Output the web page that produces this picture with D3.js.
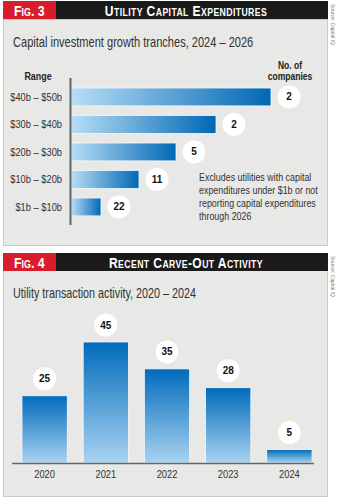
<!DOCTYPE html>
<html>
<head>
<meta charset="utf-8">
<script src="https://cdn.jsdelivr.net/npm/d3@7"></script>
<style>
    body { margin: 0; background: #fff; }
    svg { display: block; }
    text { font-family: "Liberation Sans", Arial, sans-serif; }
</style>
</head>
<body>
<svg id="chart" width="339" height="500"></svg>
<script>
// Fig. 3 data
const ranges = ["$40b – $50b", "$30b – $40b", "$20b – $30b", "$10b – $20b", "$1b – $10b"];
const companies = [2, 2, 5, 11, 22];
const barLength = [100, 72.5, 52.5, 34, 15];   // relative bar length
const note = ["Excludes utilities with capital", "expenditures under $1b or not",
    "reporting capital expenditures", "through 2026"];

// Fig. 4 data
const years = ["2020", "2021", "2022", "2023", "2024"];
const deals = [25, 45, 35, 28, 5];

(function (d3) {
    'use strict';

    const svg = d3.select("#chart");
    const defs = svg.append("defs");
    const NARROW = 0.81;   // no Arial Narrow installed, squeeze Liberation Sans instead

    let hGrad = defs.append("linearGradient").attr("id", "hgrad")
        .attr("x1", "0%").attr("x2", "100%").attr("y1", "0%").attr("y2", "0%");
    hGrad.append("stop").attr("offset", "0%").attr("stop-color", "#b8def6");
    hGrad.append("stop").attr("offset", "100%").attr("stop-color", "#0067b5");

    let vGrad = defs.append("linearGradient").attr("id", "vgrad")
        .attr("x1", "0%").attr("x2", "0%").attr("y1", "0%").attr("y2", "100%");
    vGrad.append("stop").attr("offset", "0%").attr("stop-color", "#006bbb");
    vGrad.append("stop").attr("offset", "100%").attr("stop-color", "#a9d3f1");

    // narrow text block, lines stacked with dy
    function label(x, y, lines, size, opts) {
        opts = opts || {};
        let t = svg.append("text")
            .attr("transform", `translate(${x},${y}) scale(${opts.scale || NARROW},1)`)
            .attr("text-anchor", opts.anchor || "start")
            .style("font-size", size + "px")
            .style("font-weight", opts.bold ? "bold" : "normal")
            .attr("fill", opts.fill || "#333");
        if (opts.caps) t.style("font-variant", "small-caps");
        if (opts.spacing) t.style("letter-spacing", opts.spacing);
        t.selectAll("tspan").data([].concat(lines)).enter().append("tspan")
            .attr("x", 0).attr("dy", (d, i) => i ? (opts.lh || size) : 0).text(d => d);
        return t;
    }

    function header(y, fig, title) {
        svg.append("rect").attr("x", 3).attr("y", y).attr("width", 53).attr("height", 18).attr("fill", "#d91c2b");
        svg.append("rect").attr("x", 56).attr("y", y).attr("width", 272).attr("height", 18).attr("fill", "#1b1a1a");
        label(14, y + 14.5, fig, 15.5, {bold: true, caps: true, fill: "#fff", scale: 0.8});
        label(186, y + 14.5, title, 15.5, {bold: true, caps: true, fill: "#fff", anchor: "middle", scale: 0.78, spacing: "0.5px"});
        svg.append("text")
            .attr("transform", `translate(331,${y + 3}) rotate(90)`)
            .style("font-size", "5px").attr("fill", "#777").text("Source: Capital IQ");
    }

    function panel(y, h) {
        svg.append("rect").attr("x", 3.5).attr("y", y + 0.5).attr("width", 324).attr("height", h)
            .attr("fill", "#e8e8e6").attr("stroke", "#c9c9c7").attr("stroke-width", 1);
    }

    // ---------- Fig. 3 ----------
    panel(19, 226);
    header(1, "Fig. 3", "Utility Capital Expenditures");

    label(13, 47, "Capital investment growth tranches, 2024 – 2026", 14, {scale: 0.79});

    label(38, 80, "Range", 11, {bold: true, anchor: "middle", fill: "#222"});
    label(290, 68.5, "No. of", 10.5, {bold: true, anchor: "middle", fill: "#222"});
    label(290, 79.5, "companies", 10.5, {bold: true, anchor: "middle", fill: "#222"});

    const x1 = d3.scaleLinear().domain([0, 100]).range([71, 271]);
    const y1 = d3.scaleBand().domain(ranges).range([83.2, 220.7]).paddingInner(0.35).paddingOuter(0.175);

    const g1 = svg.append("g");
    g1.selectAll("rect").data(ranges).enter().append("rect")
        .attr("x", x1(0))
        .attr("y", d => y1(d))
        .attr("width", (d, i) => x1(barLength[i]) - x1(0))
        .attr("height", y1.bandwidth())
        .attr("fill", "url(#hgrad)")
        .attr("stroke", "#f4f8fb").attr("stroke-width", 0.8);

    g1.selectAll("circle").data(ranges).enter().append("circle")
        .attr("cx", (d, i) => x1(barLength[i]) + 18)
        .attr("cy", d => y1(d) + y1.bandwidth() / 2)
        .attr("r", 11.5).attr("fill", "#fff");

    g1.selectAll(".num").data(ranges).enter().append("text").attr("class", "num")
        .attr("x", (d, i) => x1(barLength[i]) + 18)
        .attr("y", d => y1(d) + y1.bandwidth() / 2 + 3.5)
        .attr("text-anchor", "middle")
        .style("font-size", "10px").style("font-weight", "bold").attr("fill", "#111")
        .text((d, i) => companies[i]);

    const axis1 = svg.append("g").attr("transform", "translate(70,0)")
        .call(d3.axisLeft(y1).tickSize(0).tickPadding(8));
    axis1.select(".domain").remove();
    axis1.selectAll("text").style("font-size", "11.5px").attr("fill", "#333")
        .style("font-family", "'Liberation Sans', Arial, sans-serif")
        .attr("transform", `scale(${NARROW},1)`)
        .attr("x", -8 / NARROW);
    svg.append("line").attr("x1", 70.5).attr("x2", 70.5).attr("y1", 78).attr("y2", 225)
        .attr("stroke", "#666").attr("stroke-width", 2);

    label(199, 181, note, 11, {lh: 13});

    // ---------- Fig. 4 ----------
    panel(270, 226);
    header(253, "Fig. 4", "Recent Carve-Out Activity");

    label(13, 298, "Utility transaction activity, 2020 – 2024", 14, {scale: 0.77});

    const x2 = d3.scaleBand().domain(years).range([12.8, 321.2]).paddingInner(0.26).paddingOuter(0.15);
    const y2 = d3.scaleLinear().domain([0, 45]).range([463, 342]);

    const g2 = svg.append("g");
    g2.selectAll("rect").data(years).enter().append("rect")
        .attr("x", d => x2(d))
        .attr("y", (d, i) => y2(deals[i]))
        .attr("width", x2.bandwidth())
        .attr("height", (d, i) => y2(0) - y2(deals[i]))
        .attr("fill", "url(#vgrad)")
        .attr("stroke", "#f4f8fb").attr("stroke-width", 0.8);

    g2.selectAll("circle").data(years).enter().append("circle")
        .attr("cx", d => x2(d) + x2.bandwidth() / 2)
        .attr("cy", (d, i) => y2(deals[i]) - 17)
        .attr("r", 11.5).attr("fill", "#fff");

    g2.selectAll(".num").data(years).enter().append("text").attr("class", "num")
        .attr("x", d => x2(d) + x2.bandwidth() / 2)
        .attr("y", (d, i) => y2(deals[i]) - 13.5)
        .attr("text-anchor", "middle")
        .style("font-size", "10px").style("font-weight", "bold").attr("fill", "#111")
        .text((d, i) => deals[i]);

    svg.append("line").attr("x1", 12).attr("x2", 314).attr("y1", 463.5).attr("y2", 463.5)
        .attr("stroke", "#666").attr("stroke-width", 1.5);

    const axis2 = svg.append("g").attr("transform", "translate(0,463)")
        .call(d3.axisBottom(x2).tickSize(0).tickPadding(7));
    axis2.select(".domain").remove();
    axis2.selectAll("text").style("font-size", "11.5px").attr("fill", "#333")
        .style("font-family", "'Liberation Sans', Arial, sans-serif")
        .attr("transform", `scale(${NARROW},1)`);

}(d3));
</script>
</body>
</html>
